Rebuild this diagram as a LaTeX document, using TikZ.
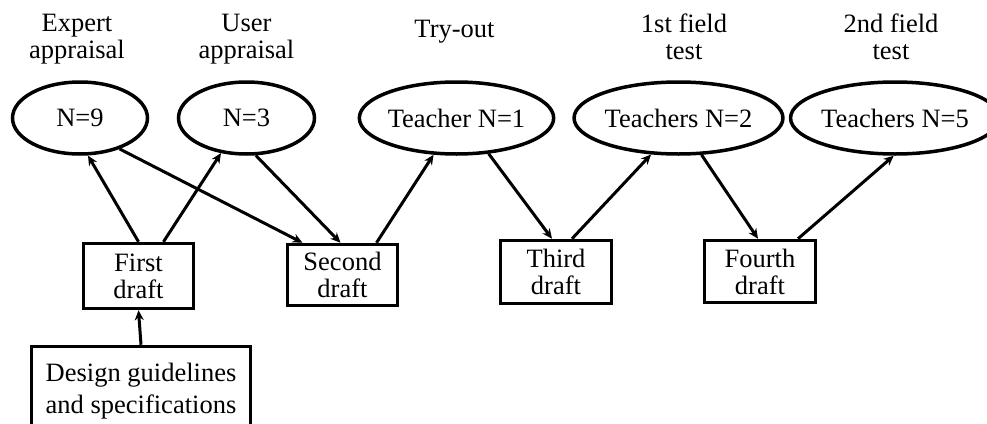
\documentclass[tikz,border=0pt]{standalone}
\usepackage{fontspec}
\setmainfont{Liberation Serif}
\usetikzlibrary{shapes.geometric,arrows.meta}
\begin{document}
\begin{tikzpicture}[x=1pt,y=-1pt,
  font=\fontsize{26.5}{27}\selectfont,
  evalnode/.style={ellipse,draw,line width=3.5pt,minimum height=72pt,inner sep=0pt},
  draftbox/.style={rectangle,draw,line width=3.5pt,minimum width=110pt,inner sep=0pt,align=center},
  phase/.style={align=center,inner sep=0pt},
  flow/.style={line width=3pt,-{Stealth[length=10pt,width=9pt]}}]
\useasboundingbox (0,0) rectangle (987,423);

% evaluation phases
\node[phase] (l1) at (77,39) {Expert\\appraisal};
\node[phase] (l2) at (246.5,39) {User\\appraisal};
\node[phase] (l3) at (454.5,32) {Try-out};
\node[phase] (l4) at (684,36.5) {1st field\\test};
\node[phase] (l5) at (891,36.5) {2nd field\\test};

% participants
\node[evalnode,minimum width=135pt] (n9) at (80,118) {N=9};
\node[evalnode,minimum width=136pt] (n3) at (246.5,118) {N=3};
\node[evalnode,minimum width=184pt] (t1) at (456.5,118) {Teacher N=1};
\node[evalnode,minimum width=184pt] (t2) at (678.5,118) {Teachers N=2};
\node[evalnode,minimum width=177pt] (t5) at (895,118) {Teachers N=5};

% drafts
\node[draftbox,minimum height=65pt] (fd) at (138.5,276) {First\\draft};
\node[draftbox,minimum height=61pt] (sd) at (342.5,275) {Second\\draft};
\node[draftbox,minimum width=111pt,minimum height=63pt] (td) at (556,272) {Third\\draft};
\node[draftbox,minimum width=111pt,minimum height=62pt] (fo) at (760,271.5) {Fourth\\draft};
\node[draftbox,minimum width=219pt,minimum height=90pt,
      font=\fontsize{26.5}{32}\selectfont] (dg) at (141,391.5) {Design guidelines\\and specifications};

% flow of the development process
\draw[flow] (dg.north) -- (fd.south);
\draw[flow] (fd.north) -- (n9.-78);
\draw[flow] ([xshift=25pt]fd.north) -- (n3.-126);
\draw[flow] (n9.-38) -- ([xshift=-40pt]sd.north);
\draw[flow] (n3.-76) -- ([xshift=-2pt]sd.north);
\draw[flow] ([xshift=34pt]sd.north) -- (t1.-122);
\draw[flow] (t1.-48) -- ([xshift=-4pt]td.north);
\draw[flow] ([xshift=16pt]td.north) -- (t2.-127);
\draw[flow] (t2.-58) -- ([xshift=-2pt]fo.north);
\draw[flow] ([xshift=38pt]fo.north) -- (t5.-92);
\end{tikzpicture}
\end{document}
